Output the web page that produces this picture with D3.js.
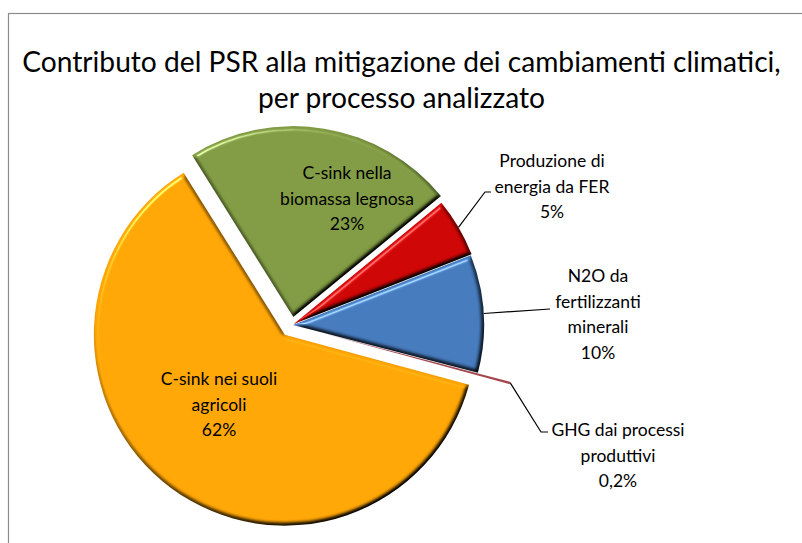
<!DOCTYPE html>
<html>
<head>
<meta charset="utf-8">
<script src="https://cdn.jsdelivr.net/npm/d3@7"></script>
<style>
  body { margin: 0; background: #fff; }
  svg { display: block; }
  text { font-family: Lato, "Open Sans", sans-serif; fill: #000; }
</style>
</head>
<body>
<svg id="chart" width="802" height="543"></svg>
<script>
// Processes, in drawing order (clockwise from the top-left edge of the woody biomass slice)
const categories = [
  "C-sink nella biomassa legnosa",
  "Produzione di energia da FER",
  "N2O da fertilizzanti minerali",
  "GHG dai processi produttivi",
  "C-sink nei suoli agricoli"
];
const shares = [23, 5, 10, 0.2, 62];
const shareLabels = ["23%", "5%", "10%", "0,2%", "62%"];
const labelLines = [
  ["C-sink nella", "biomassa legnosa"],
  ["Produzione di", "energia da FER"],
  ["N2O da", "fertilizzanti", "minerali"],
  ["GHG dai processi", "produttivi"],
  ["C-sink nei suoli", "agricoli"]
];
const titleLines = [
  "Contributo del PSR alla mitigazione dei cambiamenti climatici,",
  "per processo analizzato"
];

// Styling and layout
const colors = ["#7f9a42", "#cc0404", "#4479bb", "#a4464d", "#ffa505"];
const explode = [8, 2, 1, 35, 12];
const labelPos = [
  { x: 347, y: 179 },
  { x: 552, y: 167 },
  { x: 598, y: 282 },
  { x: 618, y: 436 },
  { x: 219, y: 385 }
];
const lineStep = 25.5;
const cx = 292, cy = 325, R = 191;
const startDeg = -32;

const svg = d3.select("#chart");

// Chart area frame
svg.append("rect")
  .attr("x", 8.5).attr("y", 13.5)
  .attr("width", 820).attr("height", 560)
  .attr("fill", "#fff")
  .attr("stroke", "#8c8c8c").attr("stroke-width", 1.2);

// Bevel-like shading for the slices
const defs = svg.append("defs");
const f = defs.append("filter").attr("id", "bevel")
  .attr("x", "-5%").attr("y", "-5%").attr("width", "110%").attr("height", "110%")
  .attr("color-interpolation-filters", "sRGB");
f.append("feGaussianBlur").attr("in", "SourceAlpha").attr("stdDeviation", 2.2).attr("result", "b");
f.append("feDiffuseLighting").attr("in", "b").attr("surfaceScale", 4)
  .attr("diffuseConstant", 1.22).attr("lighting-color", "#fff").attr("result", "d")
  .append("feDistantLight").attr("azimuth", 235).attr("elevation", 55);
f.append("feSpecularLighting").attr("in", "b").attr("surfaceScale", 4)
  .attr("specularConstant", 0.45).attr("specularExponent", 30)
  .attr("lighting-color", "#fff").attr("result", "s")
  .append("feDistantLight").attr("azimuth", 235).attr("elevation", 35);
f.append("feComposite").attr("in", "SourceGraphic").attr("in2", "d")
  .attr("operator", "arithmetic").attr("k1", 1).attr("result", "lit");
f.append("feComposite").attr("in", "s").attr("in2", "SourceAlpha")
  .attr("operator", "in").attr("result", "sIn");
f.append("feComposite").attr("in", "lit").attr("in2", "sIn")
  .attr("operator", "arithmetic").attr("k2", 1).attr("k3", 1);

// Title
const title = svg.append("g").attr("text-anchor", "middle");
const t1 = title.append("text").attr("x", 401.5).attr("y", 72)
  .style("font-size", "29px").text(titleLines[0]);
const w1 = t1.node().getComputedTextLength();
const titleSize = 29 * 759 / w1;
t1.style("font-size", titleSize + "px");
title.append("text").attr("x", 401.5).attr("y", 108)
  .style("font-size", titleSize + "px").text(titleLines[1]);

// Pie
const data = categories.map((c, i) => ({ name: c, value: shares[i], i }));
const rad = Math.PI / 180;
const pie = d3.pie().sort(null).value(d => d.value).startAngle(startDeg * rad).endAngle((startDeg + 360) * rad);
const arcs = pie(data);
const arc = d3.arc().innerRadius(0).outerRadius(R);

const mid = a => (a.startAngle + a.endAngle) / 2;
const offset = a => {
  const m = mid(a), e = explode[a.data.i];
  return [e * Math.sin(m), -e * Math.cos(m)];
};

const pieG = svg.append("g").attr("transform", `translate(${cx},${cy})`);
// small slice first so the neighbours cover its tip
const drawOrder = [3, 0, 1, 2, 4];
drawOrder.forEach(k => {
  const a = arcs[k];
  const [dx, dy] = offset(a);
  pieG.append("path")
    .attr("transform", `translate(${dx},${dy})`)
    .attr("d", arc(a))
    .attr("fill", colors[k])
    .attr("filter", k === 3 ? null : "url(#bevel)");
});

// Leader lines for the outside labels
const outerPoint = (a, extra) => {
  const m = mid(a), [dx, dy] = offset(a), r = R + (extra || 0);
  return [cx + dx + r * Math.sin(m), cy + dy - r * Math.cos(m)];
};
const leaders = [
  { k: 1, pts: p => [p, [485, 192], [491, 192]] },
  { k: 2, pts: p => [p, [550, 309]] },
  { k: 3, pts: p => [p, [541, 432], [548, 432]] }
];
leaders.forEach(L => {
  const p = outerPoint(arcs[L.k]);
  svg.append("path")
    .attr("d", d3.line()(L.pts(p)))
    .attr("fill", "none").attr("stroke", "#000").attr("stroke-width", 1.2);
});

// Data labels
const labels = svg.append("g").attr("text-anchor", "middle").style("font-size", "17.5px");
arcs.forEach((a, k) => {
  const lines = labelLines[k].concat([shareLabels[k]]);
  const t = labels.append("text");
  lines.forEach((ln, j) => {
    t.append("tspan").attr("x", labelPos[k].x).attr("y", labelPos[k].y + j * lineStep).text(ln);
  });
});
</script>
</body>
</html>
